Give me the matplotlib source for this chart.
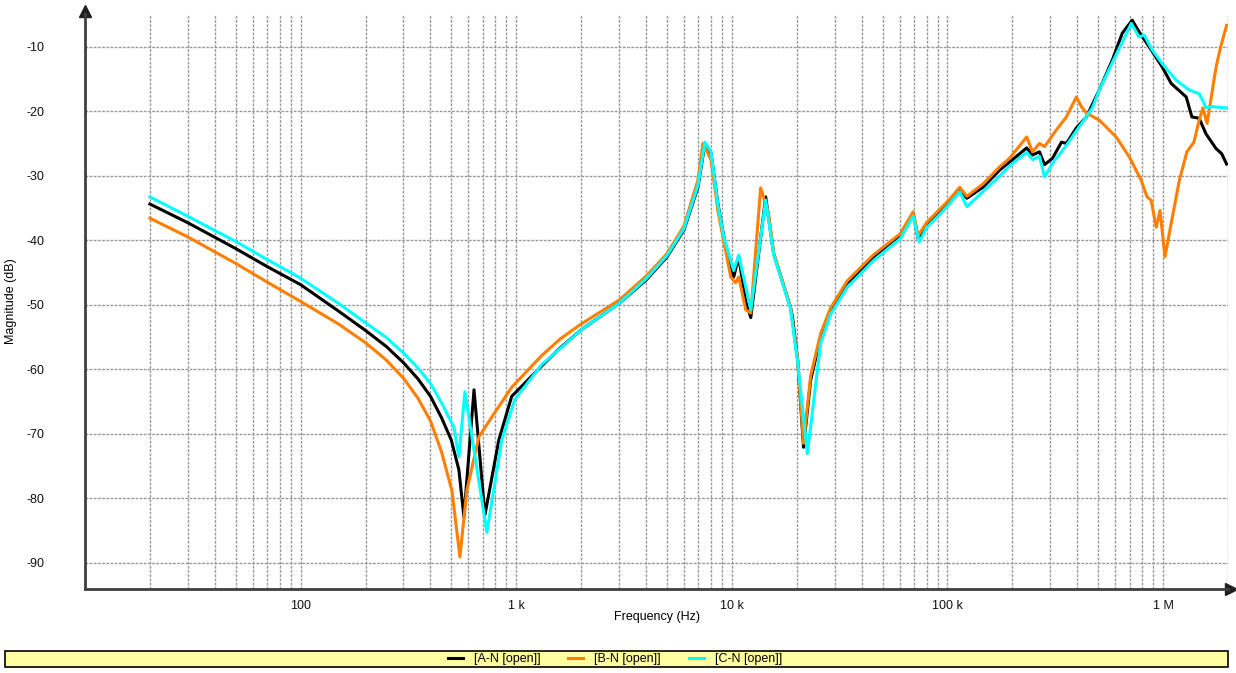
import numpy as np
import matplotlib
matplotlib.use("Agg")
import matplotlib.pyplot as plt
from matplotlib.patches import Rectangle
from matplotlib.transforms import offset_copy

plt.rcParams['font.family'] = ['Liberation Sans', 'DejaVu Sans']

# A-N [open]
an_freq = [20, 30, 50, 70, 100, 150, 200, 250, 300, 350, 400, 450,
           500, 542, 572, 637, 716, 830, 953, 1000, 1312, 1600, 2000, 3000, 4000, 5000,
           6000, 6960, 7500, 8000, 8610, 9180, 9880, 10200, 10760, 11600, 12240, 13200,
           14350, 15630, 18700, 19100, 20200, 21500, 23200, 25800, 28700, 34300,
           36600, 45300, 60400, 69300, 73100, 80300, 92200, 102700, 114000, 123000,
           146000, 175000, 194000, 233000, 248000, 267000, 282000, 307000, 338000,
           356000, 396000, 441000, 506000, 581000, 647000, 719000, 774000, 861000,
           989000, 1.09e6, 1.28e6, 1.36e6, 1.47e6, 1.58e6, 1.76e6, 1.87e6, 1.97e6]
an_db = [-34.4, -37.3, -41.3, -44.1, -46.9, -51.0, -54.0, -56.5, -59.0, -61.5, -64.2,
         -67.5, -71.0, -75.6, -82.9, -63.2, -82.6, -71.0,
         -64.2, -63.5, -59.5, -56.7, -53.9, -49.8, -46.2, -42.6, -38.4, -31.8, -25.0,
         -26.5, -34.3, -39.5, -44.1, -45.7, -42.6, -49.5, -52.0, -43.1, -33.3, -42.1,
         -50.4, -51.9, -58.6, -72.1, -61.7, -55.0, -50.8, -46.6, -45.9, -42.6, -39.2,
         -35.8, -39.8, -37.4, -35.4, -33.8, -32.0, -33.5, -31.8, -29.1, -27.9, -25.7,
         -26.8, -26.3, -28.3, -27.3, -24.8, -25.0, -22.6, -20.9, -16.7, -12.1, -7.9,
         -5.9, -7.7, -10.0, -13.1, -15.7, -17.8, -20.9, -21.1, -23.5, -25.8, -26.6,
         -28.2]

# B-N [open]
bn_freq = [20, 30, 50, 70, 100, 150, 200, 250, 300, 350, 400, 450, 503,
           548, 590, 671, 771, 953, 1312, 1600, 2000, 3000, 4000, 5000, 6000, 6960,
           7340, 8000, 8610, 9880, 10400, 10760, 11600, 12240, 13600, 14800, 15630,
           18700, 20200, 21500, 23200, 25800, 28700, 34300, 45300, 60400, 69300,
           73100, 80300, 92200, 102700, 114000, 123000, 146000, 175000, 194000,
           233000, 248000, 267000, 282000, 320000, 356000, 396000, 418000, 441000,
           506000, 606000, 697000, 791000, 843000, 880000, 929000, 968000, 1.02e6,
           1.09e6, 1.19e6, 1.29e6, 1.39e6, 1.47e6, 1.53e6, 1.60e6, 1.67e6, 1.76e6,
           1.85e6, 1.97e6]
bn_db = [-36.6, -39.5, -43.6, -46.5, -49.5, -53.0, -55.9, -58.6, -61.4, -64.5, -68.0,
         -72.8, -78.8, -89.1, -78.8, -70.5, -67.4, -62.8, -57.9,
         -55.3, -53.0, -49.3, -45.6, -42.1, -37.8, -30.7, -25.0, -27.5, -35.4, -45.7,
         -46.6, -45.7, -50.8, -51.3, -31.9, -35.8, -42.0, -50.4, -58.6, -71.5, -61.0,
         -54.5, -50.5, -46.3, -42.3, -39.0, -35.6, -39.3, -37.2, -35.2, -33.6, -31.8,
         -33.2, -31.3, -28.6, -27.3, -24.0, -26.3, -25.0, -25.5, -22.9, -20.9, -17.8,
         -19.3, -20.3, -21.4, -24.0, -27.1, -30.7, -33.3, -33.8, -38.0, -35.4, -42.6,
         -37.4, -30.7, -26.3, -24.8, -21.4, -19.5, -21.9, -18.0, -13.2, -10.0, -6.7]

# C-N [open]
cn_freq = [20, 30, 50, 70, 100, 150, 200, 250, 300, 350, 400, 450, 514, 542,
           578, 731, 857, 985, 1312, 1600, 2000, 3000, 4000, 5000, 6000, 6960, 7500,
           8000, 8610, 9180, 10200, 10760, 12240, 14350, 15630, 18700, 20200, 22400,
           25800, 28700, 34300, 45300, 60400, 69300, 73900, 80300, 92200, 102700,
           114000, 123000, 146000, 175000, 194000, 233000, 248000, 267000, 282000,
           307000, 356000, 409000, 470000, 506000, 581000, 712000, 774000, 817000,
           890000, 989000, 1.15e6, 1.32e6, 1.47e6, 1.55e6, 1.58e6, 1.68e6, 1.97e6]
cn_db = [-33.3, -36.3, -40.2, -43.0, -45.9, -49.8, -52.8, -55.1, -57.5, -59.8, -62.2,
         -65.2, -69.0, -73.6, -63.5, -85.3, -71.0, -64.7, -59.3, -56.8,
         -53.9, -49.8, -46.0, -42.4, -38.2, -31.5, -24.8, -26.3, -34.5, -39.5, -44.7,
         -42.3, -50.8, -33.8, -42.3, -50.6, -59.0, -73.1, -56.0, -51.5, -47.3, -43.2,
         -39.8, -36.3, -40.3, -38.0, -36.0, -34.3, -32.5, -34.8, -32.5, -30.0, -28.5,
         -26.4, -27.5, -27.0, -30.2, -28.1, -25.3, -22.4, -19.5, -16.7, -12.5, -6.4,
         -8.5, -8.2, -10.5, -12.6, -15.2, -16.7, -17.3, -18.8, -19.5, -19.3, -19.5]

series_labels = ["[A-N [open]]", "[B-N [open]]", "[C-N [open]]"]
series_colors = ["#000000", "#FF7F00", "#00FFFF"]

x_major = [100, 1e3, 1e4, 1e5, 1e6]
x_major_labels = ["100", "1 k", "10 k", "100 k", "1 M"]
y_ticks = [-90, -80, -70, -60, -50, -40, -30, -20, -10]

W, H = 1236, 673
fig = plt.figure(figsize=(W / 100, H / 100), dpi=100)
ax = fig.add_axes([85 / W, 1 - 588.5 / H, (1228 - 85) / W, (588.5 - 14.4) / H])

for fq, db, lab, col in zip([an_freq, bn_freq, cn_freq], [an_db, bn_db, cn_db],
                            series_labels, series_colors):
    ax.plot(fq, db, color=col, lw=2.2, label=lab, solid_joinstyle='round')

ax.set_xscale('log')
ax.set_xlim(10, 2e6)
ax.set_ylim(-94, -5)

minor = [m * 10 ** d for d in range(1, 7) for m in range(2, 10) if m * 10 ** d <= 2e6]
ax.set_xticks(x_major)
ax.set_xticklabels(x_major_labels)
ax.set_xticks(minor, minor=True)
ax.xaxis.set_minor_formatter(plt.NullFormatter())
ax.set_yticks(y_ticks)
ax.set_yticklabels([str(v) for v in y_ticks])

ax.grid(which='major', axis='both', linestyle=(0, (2, 1)), color='#999999', lw=1)
ax.grid(which='minor', axis='x', linestyle=(0, (2, 1)), color='#999999', lw=1)
ax.set_axisbelow(True)

ax.tick_params(which='both', length=0, labelsize=9, colors='#111111')
ax.tick_params(axis='y', pad=29.5)
ax.tick_params(axis='x', pad=8)

for s in ['top', 'right']:
    ax.spines[s].set_visible(False)
for s in ['left', 'bottom']:
    ax.spines[s].set_color('#404040')
    ax.spines[s].set_linewidth(2)

# arrow heads on the axes
ax.plot(0, 1, marker='^', ms=9, color='#202020', clip_on=False,
        transform=offset_copy(ax.transAxes, fig=fig, x=0, y=3, units='dots'))
ax.plot(1, 0, marker='>', ms=8, color='#202020', clip_on=False,
        transform=offset_copy(ax.transAxes, fig=fig, x=3, y=0, units='dots'))

ax.set_xlabel("Frequency (Hz)", fontsize=9)
ax.set_ylabel("Magnitude (dB)", fontsize=9)
ax.xaxis.set_label_coords(0.5, -(611 - 588.5) / (588.5 - 14.4))
ax.yaxis.set_label_coords(-(85 - 17) / (1228 - 85), 0.5)

# legend strip
fig.patches.append(Rectangle((5 / W, 1 - 667 / H), (1228 - 5) / W, 16 / H,
                             transform=fig.transFigure, facecolor='#FFFFA0',
                             edgecolor='black', lw=1.2, zorder=0))
fig.legend(loc='center', bbox_to_anchor=(615 / W, 1 - 659 / H), ncol=3,
           frameon=False, fontsize=9, handlelength=1.2, handletextpad=0.9,
           columnspacing=2.2, borderpad=0)

fig.savefig("out.png", dpi=100)
